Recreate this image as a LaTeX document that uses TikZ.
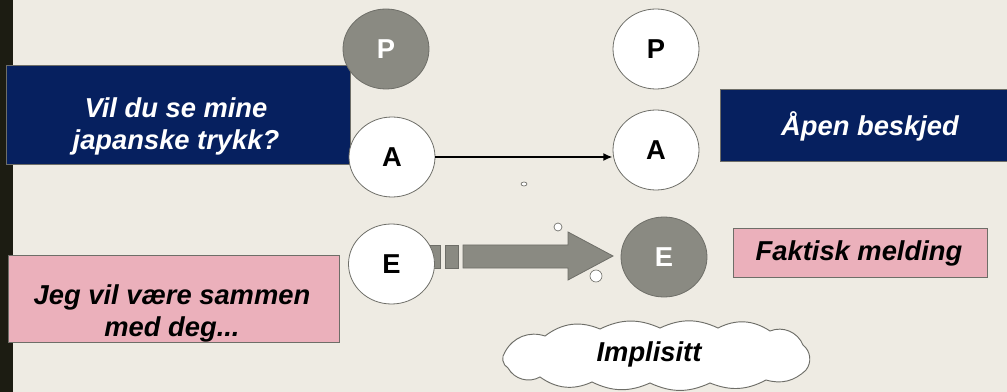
\documentclass[tikz,border=0pt]{standalone}
\usepackage{fontspec}
\setmainfont{Liberation Sans}
\usetikzlibrary{shapes.geometric,arrows.meta}
\definecolor{bgcol}{HTML}{EEEBE3}
\definecolor{barcol}{HTML}{1C1C12}
\definecolor{navy}{HTML}{06205F}
\definecolor{rose}{HTML}{EBB0BB}
\definecolor{slate}{HTML}{8A8A82}
\definecolor{rim}{HTML}{6E6E68}
\tikzset{
  lbl/.style={font=\fontsize{20.5}{24}\selectfont\bfseries\itshape, align=center, inner sep=0pt},
  ring/.style={ellipse, draw=rim, line width=0.6pt, inner sep=0pt, minimum width=64.5pt, minimum height=60pt,
               font=\fontsize{20.5}{24}\selectfont\bfseries},
  plainring/.style={ring, fill=white, text=black},
  darkring/.style={ring, fill=slate, text=white},
  navybox/.style={rectangle, fill=navy, draw=rim, line width=0.5pt, inner sep=0pt},
  rosebox/.style={rectangle, fill=rose, draw=rim, line width=0.6pt, inner sep=0pt},
  bubble/.style={ellipse, draw=rim, fill=white, line width=0.5pt, inner sep=0pt},
  blockpart/.style={fill=slate, draw=rim, line width=0.6pt},
  puff/.style={bend left=#1}
}
\begin{document}
\begin{tikzpicture}[x=0.75pt,y=-0.75pt]
  % page and left bar
  \path[use as bounding box] (0,0) rectangle (1007,392);
  \fill[bgcol] (0,0) rectangle (1007,392);
  \fill[barcol] (0,0) rectangle (13,392);

  % message boxes
  \node[navybox, minimum width=258pt, minimum height=74.25pt] (q) at (178,114.5) {};
  \node[lbl, text=white] (qt) at (176,126) {Vil du se mine\\japanske trykk?};
  \node[rosebox, minimum width=248.25pt, minimum height=65.25pt] (w) at (173.5,298.5) {};
  \node[lbl, text=black] (wt) at (172,313) {Jeg vil være sammen\\med deg...};

  \begin{scope}
    \clip (0,0) rectangle (1007,392);
    \node[navybox, minimum width=217.5pt, minimum height=54pt] (open) at (865,125) {};
  \end{scope}
  \node[lbl, text=white] (opent) at (870,126) {Åpen beskjed};
  \node[rosebox, minimum width=190.5pt, minimum height=36.75pt] (fact) at (860,252.5) {};
  \node[lbl, text=black] (factt) at (859,253) {Faktisk melding};

  % big grey block arrow between the E circles
  \path[blockpart] (430,245) rectangle (440,268);
  \path[blockpart] (445,245) rectangle (458,268);
  \path[blockpart] (463,245) -- (568,245) -- (568,232) -- (613,256)
        -- (568,280) -- (568,268) -- (463,268) -- cycle;

  % sender side
  \node[darkring] (P1) at (386,49) {P};
  \node[plainring] (A1) at (392,157) {A};
  \node[plainring] (E1) at (391.5,264) {E};

  % receiver side
  \node[plainring] (P2) at (656,49) {P};
  \node[plainring] (A2) at (656,150) {A};
  \node[darkring] (E2) at (664,257) {E};

  % open message arrow
  \draw[line width=2pt, -{Latex[length=7pt,width=6pt]}] (A1.east) -- (A1 -| A2.west);

  % thought bubbles
  \node[bubble, minimum width=4.5pt, minimum height=3pt] (b1) at (524,184) {};
  \node[bubble, minimum width=6pt, minimum height=6pt] (b2) at (558,227) {};
  \node[bubble, minimum width=9pt, minimum height=9pt] (b3) at (596,276) {};

  % implicit cloud, drawn puff by puff
  \draw[rim, fill=white, line width=0.7pt]
    (505,352) to[puff=40] (545,336) to[puff=30] (600,329) to[puff=25] (660,328)
    to[puff=25] (718,328) to[puff=30] (770,331) to[puff=45] (803,345)
    to[puff=45] (806,370) to[puff=30] (766,380) to[puff=25] (710,383)
    to[puff=25] (650,383) to[puff=25] (592,382) to[puff=30] (540,377)
    to[puff=45] (508,368) to[puff=50] cycle;
  \node[lbl, text=black] (clt) at (649,354) {Implisitt};
\end{tikzpicture}
\end{document}
